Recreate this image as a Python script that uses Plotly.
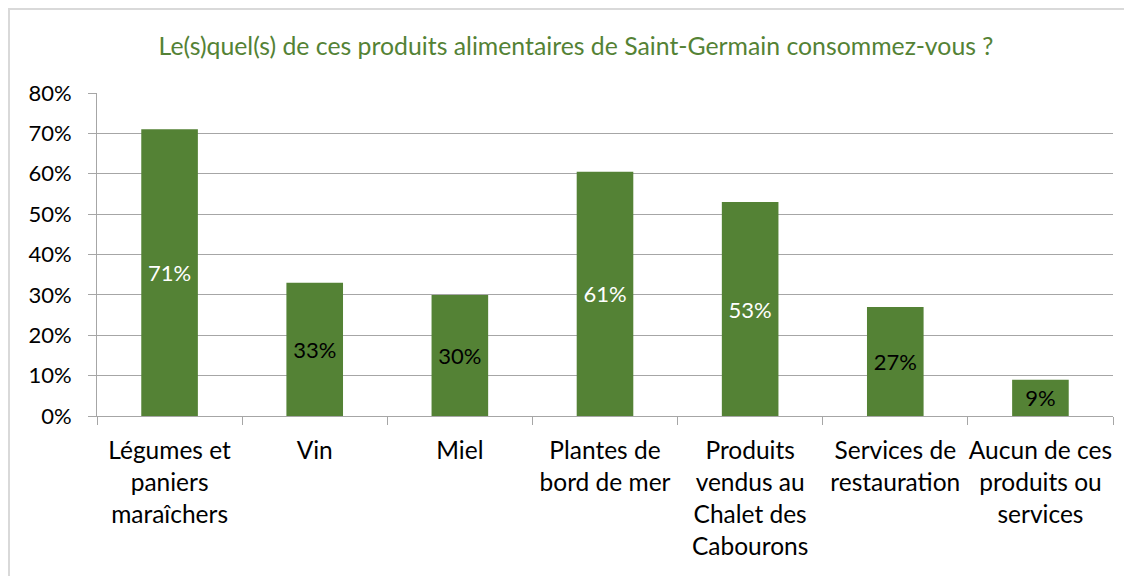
import plotly.graph_objects as go

categories = [
    "Légumes et<br>paniers<br>maraîchers",
    "Vin",
    "Miel",
    "Plantes de<br>bord de mer",
    "Produits<br>vendus au<br>Chalet des<br>Cabourons",
    "Services de<br>restauration",
    "Aucun de ces<br>produits ou<br>services",
]
values = [0.71, 0.33, 0.30, 0.605, 0.53, 0.27, 0.09]
labels = ["71%", "33%", "30%", "61%", "53%", "27%", "9%"]
label_colors = ["white", "black", "black", "white", "white", "black", "black"]
y_ticks = [0, 0.1, 0.2, 0.3, 0.4, 0.5, 0.6, 0.7, 0.8]
y_tick_text = ["0%", "10%", "20%", "30%", "40%", "50%", "60%", "70%", "80%"]
title = "Le(s)quel(s) de ces produits alimentaires de Saint-Germain consommez-vous ?"

FONT = "Lato, 'Open Sans', sans-serif"
GREEN = "#548235"

# page has an 8px body margin; figure coordinates are page coordinates - 8
W, H = 1132, 576
L, R, T, B = 89, 27, 85, 168
pw, ph = W - L - R, H - T - B

fig = go.Figure(
    go.Bar(
        x=categories,
        y=values,
        text=labels,
        textposition="inside",
        insidetextanchor="middle",
        textangle=0,
        textfont=dict(family=FONT, size=22, color=label_colors),
        marker=dict(color=GREEN, line=dict(width=0)),
        width=0.39,
        cliponaxis=False,
    )
)

fig.update_layout(
    width=W,
    height=H,
    margin=dict(l=L, r=R, t=T, b=B, autoexpand=False),
    paper_bgcolor="white",
    plot_bgcolor="white",
    showlegend=False,
    uniformtext=dict(mode=False),
    title=dict(
        text=title,
        font=dict(family=FONT, size=24.8, color=GREEN),
        x=(576 - 8) / W,
        xanchor="center",
        y=1 - 38 / H,
        yanchor="middle",
        automargin=False,
    ),
    xaxis=dict(
        type="category",
        tickson="boundaries",
        ticks="outside",
        ticklen=8,
        tickcolor="#a6a6a6",
        tickangle=0,
        automargin=False,
        showline=True,
        linecolor="#a6a6a6",
        linewidth=1,
        showgrid=False,
        tickfont=dict(family=FONT, size=24.5, color="black"),
        ticklabelstandoff=13,
    ),
    yaxis=dict(
        range=[0, 0.8],
        tickvals=y_ticks,
        ticktext=y_tick_text,
        ticks="outside",
        ticklen=8,
        tickcolor="#a6a6a6",
        automargin=False,
        showline=True,
        linecolor="#a6a6a6",
        linewidth=1,
        showgrid=True,
        gridcolor="#a6a6a6",
        gridwidth=1,
        zeroline=False,
        tickfont=dict(family=FONT, size=22, color="black"),
        ticklabelstandoff=12,
    ),
    shapes=[
        dict(
            type="rect",
            xref="paper",
            yref="paper",
            x0=(1 - L) / pw,
            x1=(W + 5 - L) / pw,
            y0=-(H + 5 - T - ph) / ph,
            y1=1 + (T - 1) / ph,
            line=dict(color="#d9d9d9", width=2),
            fillcolor="rgba(0,0,0,0)",
            layer="below",
        )
    ],
)

fig.write_html("out.html")
